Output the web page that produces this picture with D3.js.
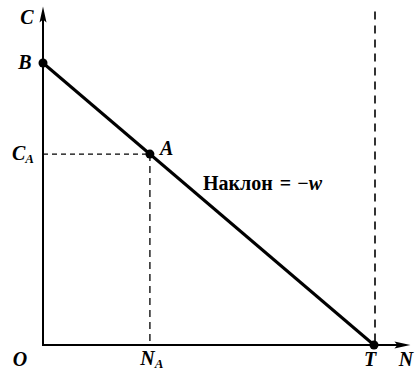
<!DOCTYPE html>
<html><head><meta charset="utf-8">
<script src="https://cdn.jsdelivr.net/npm/d3@7"></script>
<style>body{margin:0;background:#fff}svg{display:block}</style>
</head><body><svg id="c" width="417" height="371"></svg>
<script>
// Data (normalized units: T = 1 on N axis, B = 1 on C axis)
const pointNames = ["B", "A", "T"];
const pointN = [0, 0.323, 1];
const pointC = [1, 0.677, 0];
const axisMax = { N: 1.11, C: 1.2 };
const slopeWord = "Наклон";
const FONT = "'Liberation Serif', 'Times New Roman', serif";

const svg = d3.select("#c");
const x = d3.scaleLinear().domain([0, 1]).range([43, 374]);
const y = d3.scaleLinear().domain([0, 1]).range([345, 63]);

// dashed guides
const A = 1;
svg.append("line").attr("x1", x(0)).attr("y1", y(pointC[A])).attr("x2", x(pointN[A])).attr("y2", y(pointC[A]))
  .attr("stroke","#000").attr("stroke-width",1.3).attr("stroke-dasharray","5,4");
svg.append("line").attr("x1", x(pointN[A])).attr("y1", y(pointC[A])).attr("x2", x(pointN[A])).attr("y2", y(0))
  .attr("stroke","#000").attr("stroke-width",1.3).attr("stroke-dasharray","7,5");
svg.append("line").attr("x1", x(1)+1).attr("y1", y(axisMax.C)+5).attr("x2", x(1)+1).attr("y2", y(0))
  .attr("stroke","#000").attr("stroke-width",1.6).attr("stroke-dasharray","8,6");

// axes
svg.append("line").attr("x1", x(0)).attr("y1", y(0)+1).attr("x2", x(0)).attr("y2", y(axisMax.C)+6)
  .attr("stroke","#000").attr("stroke-width",2);
svg.append("line").attr("x1", x(0)-1).attr("y1", y(0)).attr("x2", x(axisMax.N)-6).attr("y2", y(0))
  .attr("stroke","#000").attr("stroke-width",2);
// arrowheads
const ax = x(0), ay = y(axisMax.C);
svg.append("path").attr("d", `M${ax},${ay} L${ax+3.5},${ay+16} L${ax},${ay+13} L${ax-3.5},${ay+16} Z`).attr("fill","#000");
const bx = x(axisMax.N), by = y(0);
svg.append("path").attr("d", `M${bx},${by} L${bx-16},${by-3.5} L${bx-13},${by} L${bx-16},${by+3.5} Z`).attr("fill","#000");

// budget line
svg.append("line").attr("x1", x(pointN[0])).attr("y1", y(pointC[0])).attr("x2", x(pointN[2])).attr("y2", y(pointC[2]))
  .attr("stroke","#000").attr("stroke-width",3);

// points
svg.selectAll("circle.p").data(pointNames).enter().append("circle")
  .attr("cx",(d,i)=>x(pointN[i])).attr("cy",(d,i)=>y(pointC[i])).attr("r",4.5).attr("fill","#000");

// labels
const mk = (px, py, anchor, size) => svg.append("text").attr("x",px).attr("y",py)
  .attr("text-anchor",anchor||"middle").attr("font-family",FONT).attr("font-size",size||20)
  .attr("font-style","italic").attr("font-weight","bold");
mk(x(0)-16, y(axisMax.C)+17).text("C");
mk(x(0)-18, y(pointC[0])+6).text("B");
const ca = mk(x(0)-20, y(pointC[A])+6);
ca.append("tspan").text("C");
ca.append("tspan").attr("font-size",13).attr("dy",3).text("A");
mk(x(pointN[A])+10, y(pointC[A])+1, "start").text("A");
mk(x(0)-23, y(0)+21).text("O");
const na = mk(x(pointN[A])+2, y(0)+20);
na.append("tspan").text("N");
na.append("tspan").attr("font-size",13).attr("dy",3).text("A");
mk(x(1)-4, y(0)+21).text("T");
mk(406, y(0)+21).text("N");

const sl = svg.append("text").attr("x",203).attr("y",190).attr("font-family",FONT).attr("font-size",20).attr("font-weight","bold");
sl.append("tspan").text(slopeWord);
sl.append("tspan").attr("dx",7).text("=");
sl.append("tspan").attr("dx",6).text("−");
sl.append("tspan").attr("font-style","italic").text("w");
</script></body></html>
